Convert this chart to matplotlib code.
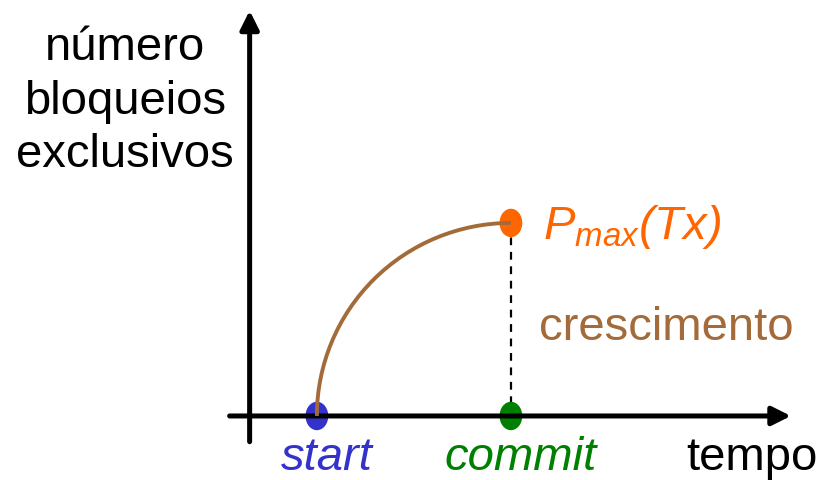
import matplotlib
matplotlib.use("Agg")
import matplotlib.pyplot as plt
from matplotlib.patches import Arc, Ellipse

# event times on the time axis and the lock count reached at commit
events = ["start", "commit"]
event_times = [1.0, 4.0]
event_colors = ["#3333cc", "#008000"]
p_max = 3.0

y_label = "número\nbloqueios\nexclusivos"
x_label = "tempo"
peak_label = r"$P_{max}(Tx)$"
phase_label = "crescimento"

plt.rcParams["font.family"] = ["Liberation Sans", "DejaVu Sans"]
plt.rcParams["mathtext.fontset"] = "custom"
plt.rcParams["mathtext.it"] = "Liberation Sans:italic"
plt.rcParams["mathtext.rm"] = "Liberation Sans:italic"

fig = plt.figure(figsize=(8.32, 4.81), dpi=100)
ax = fig.add_axes([0, 0, 1, 1])
ax.set_xlim(-3.9, 8.965)
ax.set_ylim(-0.995, 6.48)
ax.axis("off")

# axes with arrow heads
arrow = dict(arrowstyle="-|>", lw=3.6, color="black", mutation_scale=28,
             shrinkA=0, shrinkB=0)
ax.annotate("", xy=(8.33, 0), xytext=(-0.35, 0), arrowprops=arrow)
ax.annotate("", xy=(-0.04, 6.3), xytext=(-0.04, -0.4), arrowprops=arrow)

start, commit = event_times
brown = "#a36b3a"

# growth curve: quarter ellipse from start to the peak at commit
ax.add_patch(Arc((commit, 0), 2 * (commit - start), 2 * p_max,
                 theta1=90, theta2=180, color=brown, lw=2.8, zorder=3))

# dashed drop from the peak
ax.plot([commit, commit], [p_max, 0], color="black", lw=1.6,
        ls=(0, (3.5, 3)), zorder=2)

for t, c in zip(event_times, event_colors):
    ax.add_patch(Ellipse((t, 0), 0.33, 0.42, color=c, zorder=2))
ax.add_patch(Ellipse((commit, p_max), 0.33, 0.42, color="#ff6600", zorder=2))

# labels
for name, t, c in zip(events, event_times, event_colors):
    ax.text(t + 0.15, -0.64, name, color=c, fontsize=34, style="italic",
            ha="center", va="center")
ax.text(7.72, -0.64, x_label, fontsize=34, ha="center", va="center")
ax.text(-1.97, 4.9, y_label, fontsize=34, ha="center", va="center",
        linespacing=1.28)
ax.text(commit + 0.5, p_max - 0.05, peak_label, color="#ff6600", fontsize=34,
        ha="left", va="center")
ax.text(6.4, 1.38, phase_label, color=brown, fontsize=34,
        ha="center", va="center")

fig.savefig("out.png", dpi=100)
